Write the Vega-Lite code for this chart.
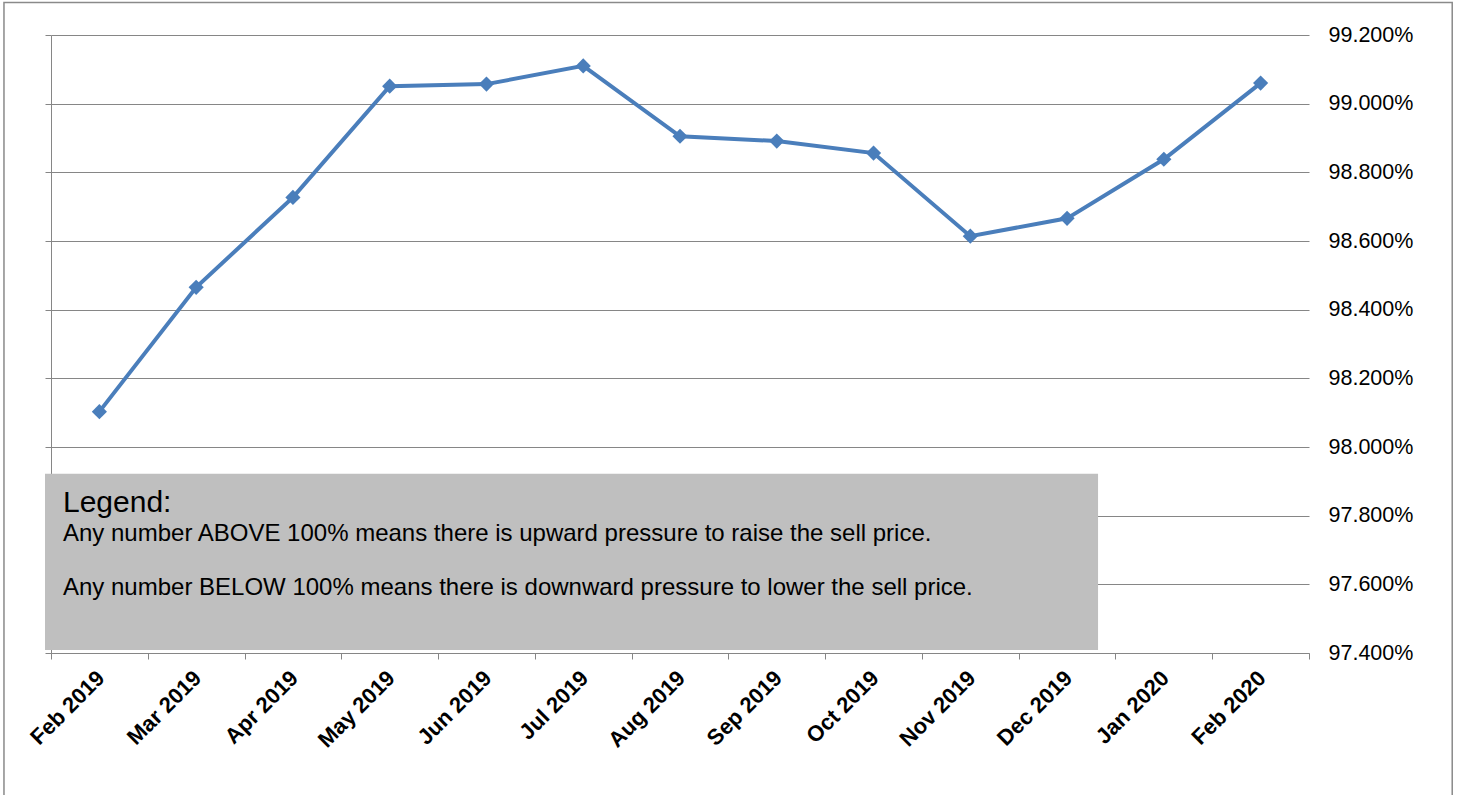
{
  "$schema": "https://vega.github.io/schema/vega-lite/v6.json",
  "autosize": "none",
  "width": 1258,
  "height": 618,
  "padding": {"left": 51, "top": 35, "right": 149, "bottom": 142},
  "background": "white",
  "config": {
    "view": {"stroke": null},
    "font": "Liberation Sans",
    "text": {"font": "Liberation Sans"}
  },
  "datasets": {
    "main": [
      {"month": "Feb 2019", "value": 0.98103},
      {"month": "Mar 2019", "value": 0.98465},
      {"month": "Apr 2019", "value": 0.98727},
      {"month": "May 2019", "value": 0.99051},
      {"month": "Jun 2019", "value": 0.99057},
      {"month": "Jul 2019", "value": 0.99110},
      {"month": "Aug 2019", "value": 0.98905},
      {"month": "Sep 2019", "value": 0.98891},
      {"month": "Oct 2019", "value": 0.98856},
      {"month": "Nov 2019", "value": 0.98614},
      {"month": "Dec 2019", "value": 0.98666},
      {"month": "Jan 2020", "value": 0.98838},
      {"month": "Feb 2020", "value": 0.99060}
    ],
    "one": [{}]
  },
  "resolve": {"scale": {"x": "independent"}, "axis": {"y": "independent"}},
  "layer": [
    {
      "data": {"name": "one"},
      "mark": {"type": "rect", "filled": false, "stroke": "#8a8a8a", "strokeWidth": 1.5},
      "encoding": {
        "x": {"datum": -0.486, "type": "quantitative", "scale": {"domain": [0, 13], "nice": false, "zero": false}, "axis": null},
        "x2": {"datum": 14.48},
        "y": {"datum": 0.992947, "type": "quantitative", "scale": {"domain": [0.974, 0.992], "nice": false, "zero": false}, "axis": null},
        "y2": {"datum": 0.9697}
      }
    },
    {
      "data": {"name": "main"},
      "mark": {"type": "line", "color": "#4a7ebb", "strokeWidth": 4,
        "point": {"shape": "diamond", "size": 230, "filled": true, "color": "#4a7ebb", "opacity": 1}},
      "encoding": {
        "x": {"field": "month", "type": "ordinal", "sort": null, "bandPosition": 0.5,
          "scale": {"type": "band", "paddingInner": 0, "paddingOuter": 0},
          "axis": {"title": null, "tickBand": "extent", "labelAngle": -45, "labelAlign": "right", "labelBaseline": "top",
            "labelFont": "Liberation Sans", "labelFontWeight": "bold", "labelFontSize": 22, "labelColor": "#000000",
            "labelPadding": 8, "labelOffset": -6, "tickSize": 6, "tickColor": "#868686", "domainColor": "#868686", "grid": false}},
        "y": {"field": "value", "type": "quantitative",
          "scale": {"domain": [0.974, 0.992], "nice": false, "zero": false},
          "axis": {"orient": "left", "title": null, "labels": false, "ticks": true, "tickSize": 6, "domain": true,
            "grid": true, "gridColor": "#868686", "tickColor": "#868686", "domainColor": "#868686",
            "values": [0.974, 0.976, 0.978, 0.98, 0.982, 0.984, 0.986, 0.988, 0.99, 0.992]}}
      }
    },
    {
      "data": {"name": "one"},
      "mark": {"type": "rect", "fill": "#bfbfbf"},
      "encoding": {
        "x": {"datum": -0.062, "type": "quantitative", "scale": {"domain": [0, 13], "nice": false, "zero": false}, "axis": null},
        "x2": {"datum": 10.82},
        "y": {"datum": 0.97922, "type": "quantitative", "scale": {"domain": [0.974, 0.992], "nice": false, "zero": false},
          "axis": {"orient": "right", "title": null, "labels": true, "ticks": false, "domain": false, "grid": false,
            "format": ".3%", "labelFont": "Liberation Sans", "labelFontSize": 21.5, "labelColor": "#000000", "labelPadding": 19,
            "values": [0.974, 0.976, 0.978, 0.98, 0.982, 0.984, 0.986, 0.988, 0.99, 0.992]}},
        "y2": {"datum": 0.97409}
      }
    },
    {
      "data": {"name": "one"},
      "mark": {"type": "text", "text": "Legend:", "fontSize": 30, "align": "left", "baseline": "alphabetic", "color": "#000000"},
      "encoding": {
        "x": {"datum": 0.124, "type": "quantitative", "scale": {"domain": [0, 13], "nice": false, "zero": false}, "axis": null},
        "y": {"datum": 0.97812, "type": "quantitative", "scale": {"domain": [0.974, 0.992], "nice": false, "zero": false}, "axis": null}
      }
    },
    {
      "data": {"name": "one"},
      "mark": {"type": "text", "text": "Any number ABOVE 100% means there is upward pressure to raise the sell price.", "fontSize": 24, "align": "left", "baseline": "alphabetic", "color": "#000000"},
      "encoding": {
        "x": {"datum": 0.124, "type": "quantitative", "scale": {"domain": [0, 13], "nice": false, "zero": false}, "axis": null},
        "y": {"datum": 0.977265, "type": "quantitative", "scale": {"domain": [0.974, 0.992], "nice": false, "zero": false}, "axis": null}
      }
    },
    {
      "data": {"name": "one"},
      "mark": {"type": "text", "text": "Any number BELOW 100% means there is downward pressure to lower the sell price.", "fontSize": 24, "align": "left", "baseline": "alphabetic", "color": "#000000"},
      "encoding": {
        "x": {"datum": 0.124, "type": "quantitative", "scale": {"domain": [0, 13], "nice": false, "zero": false}, "axis": null},
        "y": {"datum": 0.975691, "type": "quantitative", "scale": {"domain": [0.974, 0.992], "nice": false, "zero": false}, "axis": null}
      }
    }
  ]
}
